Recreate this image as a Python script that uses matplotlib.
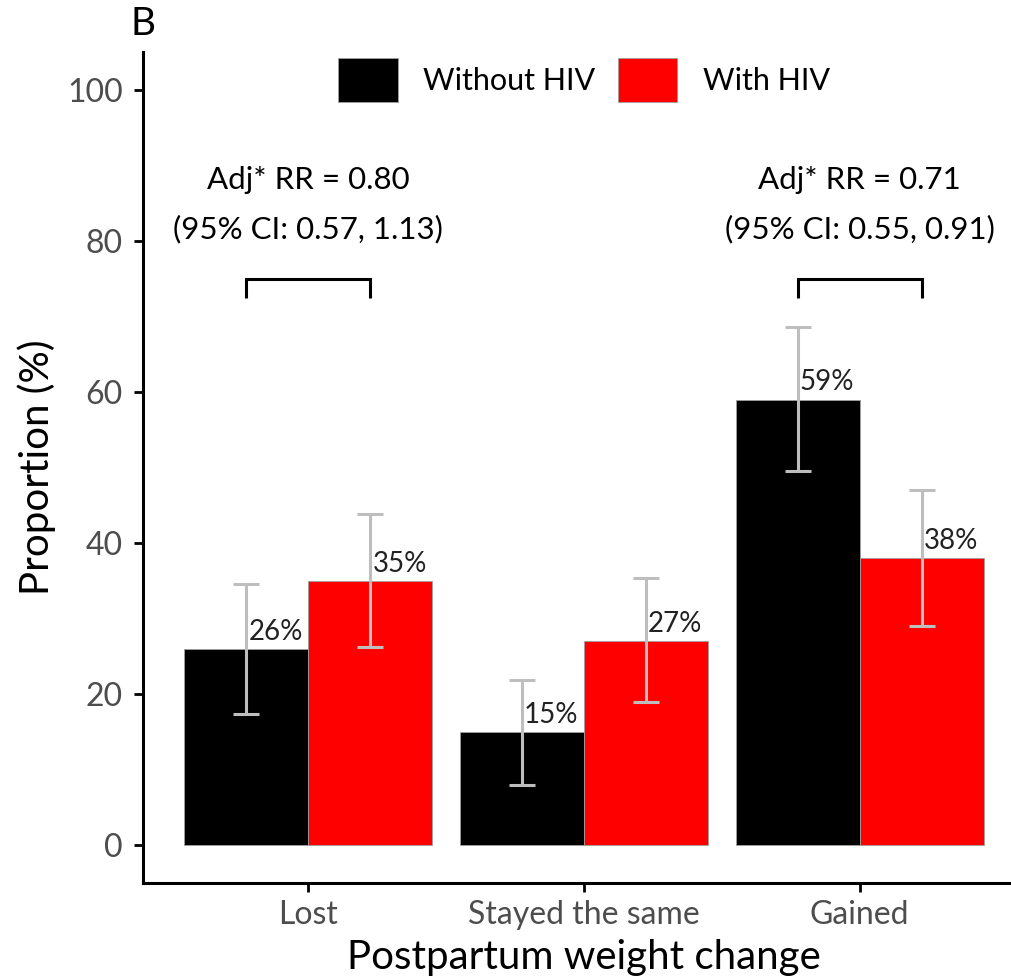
import numpy as np
import matplotlib
matplotlib.use("Agg")
import matplotlib.pyplot as plt

plt.rcParams['font.family'] = ['Lato', 'DejaVu Sans']

categories = ["Lost", "Stayed the same", "Gained"]
groups = ["Without HIV", "With HIV"]
colors = ["#000000", "#FF0000"]

without_hiv = [26, 15, 59]
without_lo = [17.4, 8.0, 49.5]
without_hi = [34.6, 21.9, 68.6]

with_hiv = [35, 27, 38]
with_lo = [26.3, 18.9, 29.0]
with_hi = [43.8, 35.4, 47.0]

rr_line1 = ["Adj* RR = 0.80", None, "Adj* RR = 0.71"]
rr_line2 = ["(95% CI: 0.57, 1.13)", None, "(95% CI: 0.55, 0.91)"]

fig = plt.figure(figsize=(10.12, 9.77), dpi=100)
ax = fig.add_axes([143 / 1012, 94 / 977, (1025 - 143) / 1012, (883 - 52) / 977])

x = np.arange(1, len(categories) + 1)
w = 0.45
series = [(without_hiv, without_lo, without_hi), (with_hiv, with_lo, with_hi)]
for i, (vals, lo, hi) in enumerate(series):
    xs = x + (i - 0.5) * w
    vals = np.array(vals)
    ax.bar(xs, vals, width=w, color=colors[i], edgecolor="#a0a0a0", linewidth=0.6,
           label=groups[i], zorder=2)
    yerr = np.vstack([vals - np.array(lo), np.array(hi) - vals])
    ax.errorbar(xs, vals, yerr=yerr, fmt="none", ecolor="#BEBEBE", elinewidth=2.2,
                capsize=9.7, capthick=2.2, zorder=3)
    for xi, v in zip(xs, vals):
        ax.annotate(f"{v:.0f}%", (xi, v), xytext=(1.5, 3), textcoords="offset points",
                    ha="left", va="bottom", fontsize=20, color="#222222", zorder=4)

# RR brackets and annotations
for xi, t1, t2 in zip(x, rr_line1, rr_line2):
    if t1 is None:
        continue
    left, right = xi - w / 2, xi + w / 2
    ax.plot([left, left, right, right], [72.5, 74.9, 74.9, 72.5], color="black",
            lw=2.2, solid_capstyle="butt", solid_joinstyle="miter", zorder=4)
    ax.text(xi, 88.0, t1, ha="center", va="center", fontsize=22.5)
    ax.text(xi, 81.6, t2, ha="center", va="center", fontsize=22.5)

ax.set_xlim(0.4, 3.6)
ax.set_ylim(-5, 105)
ax.set_yticks([0, 20, 40, 60, 80, 100])
ax.set_xticks(x)
ax.set_xticklabels(categories)

for s in ["top", "right"]:
    ax.spines[s].set_visible(False)
for s in ["left", "bottom"]:
    ax.spines[s].set_linewidth(2.2)
ax.tick_params(axis="both", length=6.5, width=2, colors="#000000", labelcolor="#4D4D4D",
               labelsize=23)
ax.tick_params(axis="y", pad=8)
ax.tick_params(axis="x", pad=6)

ax.set_ylabel("Proportion (%)", fontsize=29, labelpad=8)
ax.set_xlabel("Postpartum weight change", fontsize=29, labelpad=6)

ax.legend(loc="center", bbox_to_anchor=(584 / 1012, 1 - 80 / 977), bbox_transform=fig.transFigure,
          ncol=2, frameon=False, fontsize=22, handlelength=1.96, handleheight=1.8,
          handletextpad=0.82, columnspacing=0.72, borderaxespad=0, borderpad=0)

fig.text(143 / 1012, 1 - 24 / 977, "B", ha="center", va="center", fontsize=28)

fig.savefig("out.png", dpi=100)
